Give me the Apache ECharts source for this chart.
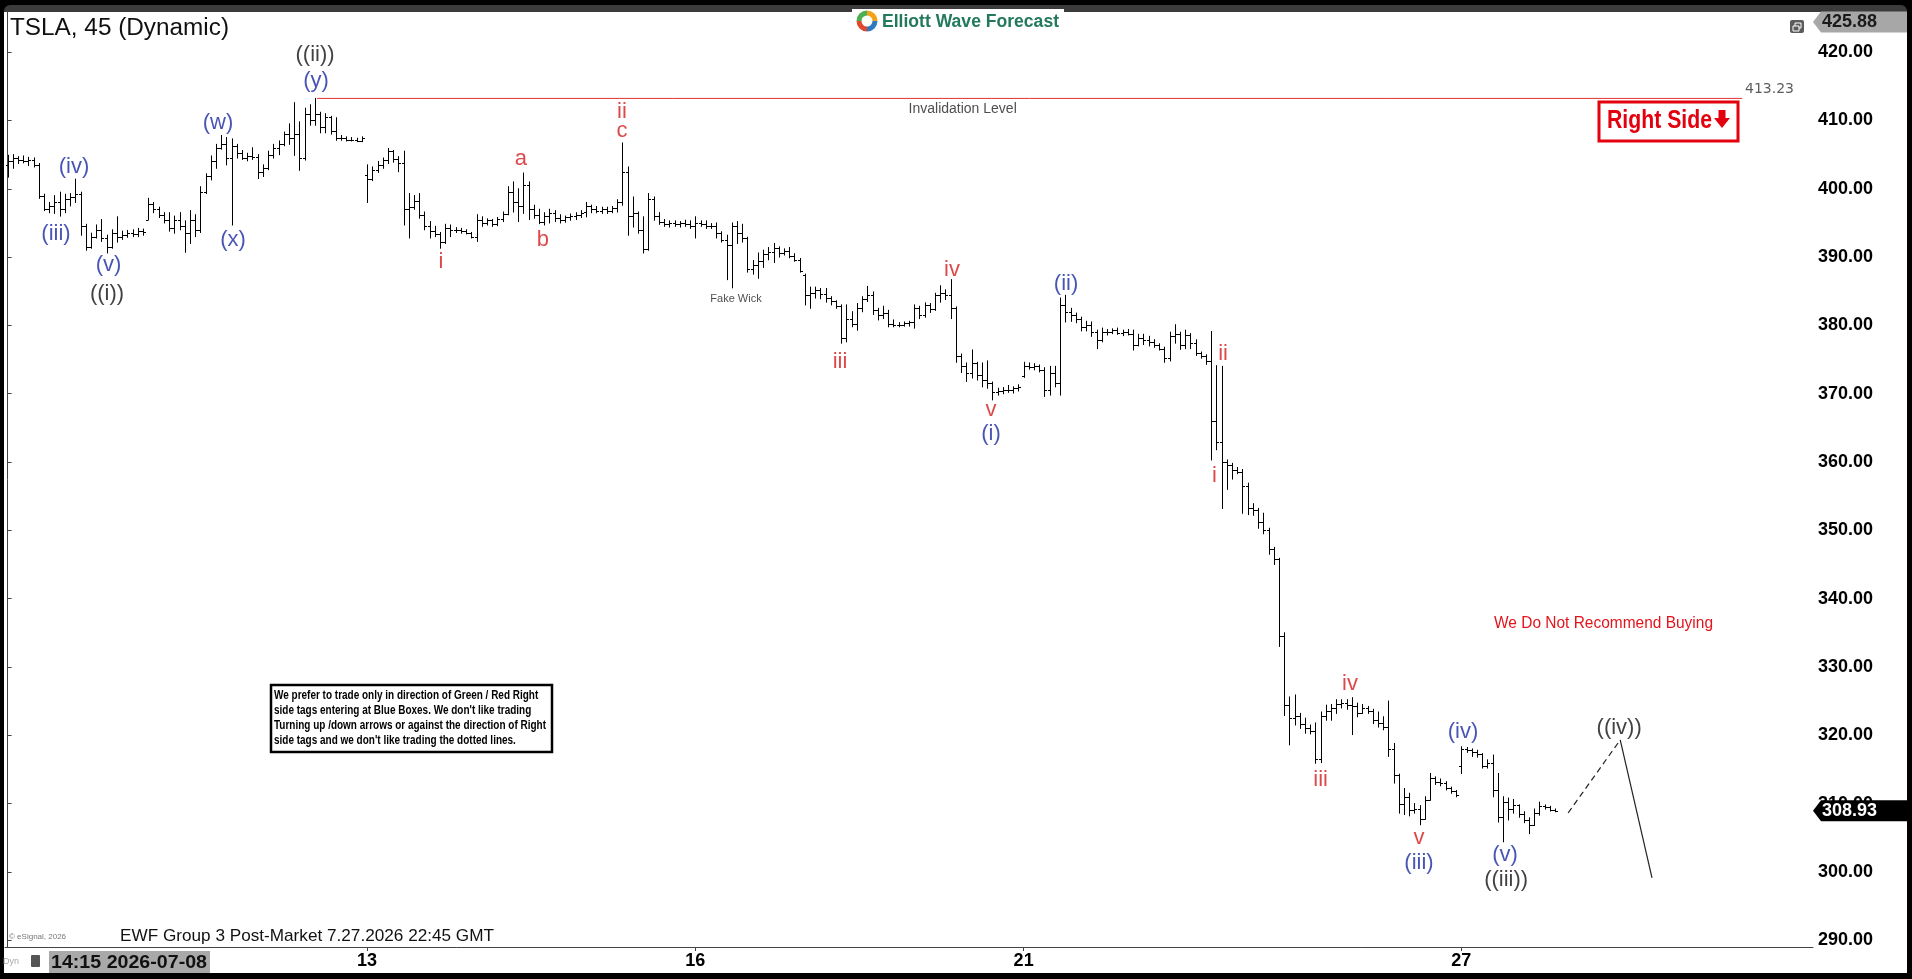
<!DOCTYPE html>
<html>
<head>
<meta charset="utf-8">
<script src="https://cdn.jsdelivr.net/npm/echarts/dist/echarts.min.js"></script>
<style>
html,body{margin:0;padding:0;background:#000;overflow:hidden}
#c{width:1912px;height:979px}
</style>
</head>
<body>
<div id="c"></div>
<script>
const FONT = '"Liberation Sans", Arial, Helvetica, sans-serif';

// ---- 45-minute OHLC bars, one array per session day: [open, high, low, close]
const d0707 = [
[403.5,404.9,401.7,404.0],[404.0,405.0,403.0,404.5],[404.5,404.7,403.7,404.2],[404.2,404.8,403.8,404.0],
[404.0,404.6,403.4,404.2],[404.2,404.5,403.2,403.5]];
const d0708 = [
[403.5,403.7,398.6,399.0],[399.0,399.2,396.8,397.0],[397.0,398.0,396.5,397.5],[397.5,399.0,396.4,398.0],
[398.0,399.5,396.0,397.0],[397.0,399.2,396.5,398.5],[398.5,399.3,397.5,398.8],[398.8,401.4,398.0,399.3],
[399.3,399.5,393.2,394.5],[394.5,394.8,391.0,391.5],[391.5,393.5,391.3,393.0],[393.0,394.7,392.8,394.0],
[394.0,395.5,392.3,392.8],[392.8,393.2,390.6,391.5],[391.5,394.0,391.3,393.5],[393.5,395.9,392.2,393.0],
[393.0,393.8,392.6,393.2],[393.2,393.9,392.9,393.5],[393.5,394.0,393.0,393.4],[393.4,394.2,393.0,393.8],
[393.8,394.1,393.2,393.6]];
const d0709 = [
[395.5,398.6,395.5,397.8],[397.8,398.0,396.5,397.0],[397.0,397.3,395.8,396.2],[396.2,396.5,395.0,395.5],
[395.5,396.5,393.8,394.2],[394.2,396.0,393.5,395.5],[395.5,396.5,394.0,394.5],[394.5,395.3,390.7,393.5],
[393.5,396.8,392.0,395.5],[395.5,396.2,393.0,394.0],[394.0,400.3,393.6,399.5],[399.5,402.2,399.3,401.8],
[401.8,404.8,401.3,404.0],[404.0,406.5,403.0,406.0],[406.0,407.8,405.8,406.5],[406.5,407.5,403.5,404.5],
[404.5,407.3,394.7,406.3],[406.3,406.5,404.5,405.2],[405.2,405.6,404.3,404.5],[404.5,405.2,404.1,404.8],
[404.8,406.0,404.3,404.6]];
const d0710 = [
[404.6,405.0,401.5,402.5],[402.5,403.5,401.8,403.0],[403.0,405.5,402.8,405.0],[405.0,406.5,404.5,406.0],
[406.0,407.0,405.0,406.5],[406.5,408.3,406.3,408.0],[408.0,409.5,406.5,407.5],[407.5,412.6,404.9,408.0],
[408.0,409.8,402.7,404.5],[404.5,411.8,404.2,411.0],[411.0,412.3,409.3,410.0],[410.0,413.23,409.3,411.0],
[411.0,411.2,408.2,409.0],[409.0,411.0,408.2,410.5],[410.5,410.6,408.0,408.5],[408.5,410.4,407.1,407.5],
[407.5,407.8,407.1,407.4],[407.4,407.6,407.0,407.2],[407.2,407.5,407.0,407.1],[407.1,407.4,406.9,407.0],
[407.0,407.6,406.9,407.5]];
const d0713 = [
[402.0,403.5,398.0,401.5],[401.5,403.2,401.2,402.8],[402.8,404.0,402.4,403.5],[403.5,404.5,403.0,404.2],
[404.2,405.9,403.7,405.5],[405.5,405.6,403.9,404.3],[404.3,404.7,402.5,403.8],[403.8,405.5,394.7,397.0],
[397.0,399.3,392.8,397.4],[397.4,399.0,397.0,398.2],[398.2,399.3,395.7,396.2],[396.2,396.6,394.0,394.5],
[394.5,395.2,392.8,393.8],[393.8,394.5,393.0,393.4],[393.4,393.6,391.3,392.2],[392.2,394.8,392.0,394.3],
[394.3,394.7,393.0,394.0],[394.0,394.3,393.6,393.9],[393.9,394.2,393.5,393.8],[393.8,394.0,393.4,393.5],
[393.5,393.6,392.8,393.0]];
const d0714 = [
[393.0,396.2,392.3,395.5],[395.5,395.9,394.5,395.0],[395.0,395.6,394.7,395.4],[395.4,395.5,394.5,394.8],
[394.8,395.8,394.6,395.6],[395.6,396.6,395.2,396.3],[396.3,400.3,396.2,399.5],[399.5,401.0,396.6,398.0],
[398.0,400.0,395.2,397.5],[397.5,402.3,396.4,400.5],[400.5,401.0,395.5,397.0],[397.0,397.6,395.7,396.2],
[396.2,397.0,394.9,395.2],[395.2,396.5,394.7,396.0],[396.0,397.0,395.0,396.4],[396.4,396.8,395.2,395.7],
[395.7,396.2,395.0,395.5],[395.5,396.0,395.1,395.8],[395.8,396.3,395.4,396.0],[396.0,396.5,395.5,396.2],
[396.2,396.8,395.8,396.5]];
const d0715 = [
[396.6,398.0,395.9,397.5],[397.5,397.6,396.5,397.0],[397.0,397.4,396.5,396.8],[396.8,397.3,396.4,397.1],
[397.1,397.3,396.4,396.8],[396.8,397.4,396.5,397.2],[397.2,398.4,396.6,398.0],[398.0,406.7,397.6,402.5],
[402.5,403.2,393.2,396.0],[396.0,398.8,394.4,396.5],[396.5,396.6,393.5,394.0],[394.0,395.9,390.6,391.2],
[391.2,399.3,391.0,398.5],[398.5,398.8,395.4,396.0],[396.0,396.5,394.8,395.2],[395.2,395.5,394.5,394.8],
[394.8,395.3,394.4,395.0],[395.0,395.3,394.5,394.9],[394.9,395.2,394.4,395.0],[395.0,395.4,394.5,394.8],
[394.8,395.3,394.2,394.6]];
const d0716 = [
[394.6,395.9,392.8,395.0],[395.0,395.3,394.5,394.8],[394.8,395.3,394.2,394.5],[394.5,394.9,394.2,394.6],
[394.6,395.0,392.8,393.5],[393.5,393.7,392.2,392.5],[392.5,393.2,386.7,391.8],[391.8,395.0,385.5,394.5],
[394.5,395.2,392.0,393.5],[393.5,394.8,392.2,392.8],[392.8,392.9,387.8,388.3],[388.3,389.5,387.5,388.8],
[388.8,390.6,386.9,389.5],[389.5,391.0,388.5,390.4],[390.4,391.4,389.6,390.8],[390.8,392.0,389.2,391.3],
[391.3,391.5,390.0,390.6],[390.6,391.2,390.3,390.9],[390.9,391.4,389.9,390.2],[390.2,390.5,389.4,389.6],
[389.6,389.8,387.8,388.0]];
const d0717 = [
[387.4,387.5,383.0,384.5],[384.5,385.6,382.5,384.8],[384.8,385.6,384.0,385.2],[385.2,385.4,383.9,384.6],
[384.6,385.4,383.4,384.0],[384.0,384.2,383.0,383.5],[383.5,383.6,382.5,382.9],[382.9,383.0,377.4,378.2],
[378.2,383.0,377.6,381.0],[381.0,382.0,379.8,380.2],[380.2,383.2,379.3,382.5],[382.5,384.2,382.0,383.8],
[383.8,385.7,383.5,384.5],[384.5,384.9,381.6,382.2],[382.2,382.5,380.8,381.5],[381.5,382.8,381.0,381.8],
[381.8,382.2,379.8,380.2],[380.2,380.8,379.8,380.1],[380.1,380.4,379.8,380.0],[380.0,380.5,379.9,380.3],
[380.3,380.6,379.9,380.5]];
const d0720 = [
[380.5,383.0,379.6,382.5],[382.5,382.8,381.0,381.5],[381.5,383.3,381.2,383.0],[383.0,383.2,381.9,382.4],
[382.4,384.7,382.2,384.4],[384.4,385.8,383.4,384.8],[384.8,385.2,383.8,384.5],[384.5,386.7,381.0,382.5],
[382.5,382.7,374.6,375.5],[375.5,375.8,373.1,374.0],[374.0,374.5,371.8,373.0],[373.0,376.4,372.3,374.5],
[374.5,374.6,372.0,372.8],[372.8,374.5,371.0,372.0],[372.0,374.8,370.8,371.5],[371.5,371.7,369.1,370.3],
[370.3,370.8,369.8,370.4],[370.4,370.9,370.0,370.6],[370.6,371.2,370.2,370.5],[370.5,371.0,370.1,370.8],
[370.8,371.3,370.4,371.0]];
const d0721 = [
[372.6,374.6,372.4,374.0],[374.0,374.5,373.6,373.9],[373.9,374.4,373.5,374.0],[374.0,374.2,373.2,373.5],
[373.5,373.8,369.6,370.5],[370.5,374.0,369.8,373.0],[373.0,374.0,371.0,371.5],[371.5,384.0,369.8,383.0],
[383.0,384.4,380.5,382.0],[382.0,382.5,380.6,381.5],[381.5,381.8,380.4,381.0],[381.0,381.2,379.2,379.8],
[379.8,380.6,379.2,380.0],[380.0,380.5,378.4,379.0],[379.0,379.3,376.6,377.8],[377.8,379.6,377.6,379.0],
[379.0,379.4,378.6,379.1],[379.1,379.5,378.8,379.3],[379.3,379.6,378.7,378.9],[378.9,379.3,378.5,379.0],
[379.0,379.4,378.6,378.8]];
const d0722 = [
[378.8,379.3,376.4,377.2],[377.2,378.7,377.0,378.2],[378.2,378.7,377.2,377.8],[377.8,378.4,377.0,377.5],
[377.5,377.9,376.8,377.2],[377.2,377.3,376.4,376.6],[376.6,376.8,374.6,375.2],[375.2,379.0,374.8,378.5],
[378.5,380.1,377.4,378.8],[378.8,379.0,376.5,377.2],[377.2,379.3,376.6,378.6],[378.6,378.8,376.6,377.4],
[377.4,377.9,375.6,376.0],[376.0,376.1,375.2,375.5],[375.5,375.7,374.3,374.8],[374.8,379.1,360.3,366.0],
[366.0,374.1,361.8,363.0],[363.0,374.0,353.2,360.0],[360.0,360.3,356.0,359.5],[359.5,359.8,357.5,358.9],
[358.9,359.2,358.3,358.6]];
const d0723 = [
[358.6,358.9,352.5,356.5],[356.5,356.9,352.3,353.2],[353.2,353.9,352.2,353.0],[353.0,353.2,350.3,351.2],
[351.2,352.5,349.5,350.0],[350.0,350.3,346.5,347.2],[347.2,347.5,345.0,345.8],[345.8,345.9,333.0,334.5],
[334.5,335.0,322.9,324.5],[324.5,325.6,318.6,322.5],[322.5,325.9,321.5,322.8],[322.8,323.2,321.0,321.6],
[321.6,322.5,320.3,321.0],[321.0,321.5,320.2,320.6],[320.6,321.8,315.9,316.5],[316.5,323.4,316.0,322.8],
[322.8,324.4,322.2,323.5],[323.5,324.5,322.2,324.0],[324.0,325.2,323.2,324.6],[324.6,325.2,324.0,324.7],
[324.7,325.2,323.8,324.5]];
const d0724 = [
[324.5,325.5,320.1,324.3],[324.3,324.7,322.7,323.2],[323.2,324.5,323.2,324.0],[324.0,324.2,323.2,323.5],
[323.5,323.8,321.7,322.3],[322.3,323.4,321.2,321.8],[321.8,322.7,320.8,321.2],[321.2,325.0,316.9,318.0],
[318.0,318.8,313.0,314.2],[314.2,314.3,308.6,310.0],[310.0,312.2,308.4,311.0],[311.0,311.5,308.2,309.0],
[309.0,310.0,308.6,309.2],[309.2,309.7,306.9,307.8],[307.8,311.0,307.7,310.5],[310.5,314.4,310.5,313.8],
[313.8,313.9,312.8,313.2],[313.2,313.6,312.6,313.0],[313.0,313.2,312.0,312.3],[312.3,312.4,311.5,311.8],
[311.8,311.9,311.0,311.2]];
const d0727 = [
[315.5,318.3,314.4,318.0],[318.0,318.2,317.5,317.8],[317.8,318.0,316.9,317.5],[317.5,317.8,316.8,317.2],
[317.2,317.3,315.2,315.5],[315.5,316.4,315.2,316.0],[316.0,317.1,311.0,312.0],[312.0,314.4,307.3,308.0],
[308.0,311.0,304.4,310.3],[310.3,310.8,307.6,309.2],[309.2,310.6,308.6,309.8],[309.8,309.8,308.0,308.4],
[308.4,308.8,307.2,307.6],[307.6,307.9,305.6,306.8],[306.8,309.2,306.8,308.6],[308.6,310.2,308.3,309.6],
[309.6,309.8,309.2,309.5],[309.5,309.6,308.9,309.1],[309.1,309.2,308.8,308.93]];

const dayBars  = [d0707,d0708,d0709,d0710,d0713,d0714,d0715,d0716,d0717,d0720,d0721,d0722,d0723,d0724,d0727];
const dayDates = ['2026-07-07','2026-07-08','2026-07-09','2026-07-10','2026-07-13','2026-07-14','2026-07-15',
                  '2026-07-16','2026-07-17','2026-07-20','2026-07-21','2026-07-22','2026-07-23','2026-07-24','2026-07-27'];
const futureDates = ['2026-07-28','2026-07-29','2026-07-30'];
const firstSlot = 15, slotsPerDay = 21, totalSlots = 347;

const xTickDays = ['2026-07-13','2026-07-16','2026-07-21','2026-07-27'];
const yTicks = [290,300,310,320,330,340,350,360,370,380,390,400,410,420];
const yMin = 289.0, yMax = 425.88;
const lastPrice = 308.93;
const invalidation = 413.23;
const invalidationSpan = [59.4, 332.9];
const projection = [[299.5,308.62],[309.5,319.31],[315.6,299.11]];

// wave labels: [text, bar position, price]
const blueLabels = [['(iii)',9.29,393.39],['(iv)',12.74,403.19],['(v)',19.37,388.85],['(w)',40.38,409.64],
  ['(x)',43.26,392.51],['(y)',59.19,415.86],['(i)',188.75,364.11],['(ii)',203.14,386.06],
  ['(iii)',270.88,301.3],['(iv)',279.33,320.5],['(v)',287.4,302.5]];
const redLabels = [['i',83.18,389.27],['a',98.53,404.44],['b',102.75,392.51],['ii',117.92,411.25],['c',117.92,408.54],
  ['iii',159.76,374.65],['iv',181.26,388.19],['v',188.75,367.62],['i',231.64,358.03],['ii',233.27,375.81],
  ['iii',252.0,313.45],['iv',257.64,327.51],['v',270.88,304.96]];
const blackLabels = [['((i))',19.08,384.6],['((ii))',59.0,419.59],['((iii))',287.6,298.83],['((iv))',309.3,321.0]];
const notes = [['Fake Wick',139.8,383.94,11],['Invalidation Level',183.3,411.69,14]];

// ---- build categories and OHLC table
function slotTime(k){ const m = 240 + 45*k; return String(Math.floor(m/60)).padStart(2,'0')+':'+String(m%60).padStart(2,'0'); }
const categories = [];
dayDates.concat(futureDates).forEach((d, di) => {
  for (let k = (di === 0 ? firstSlot : 0); k < slotsPerDay; k++) categories.push(d + ' ' + slotTime(k));
});
categories.length = totalSlots;
const tickIdx = new Set(categories.map((c,i)=>[c,i]).filter(([c])=>xTickDays.includes(c.slice(0,10)) && c.slice(11)==='04:00').map(([,i])=>i));
const ohlc = [];
dayBars.forEach(bars => bars.forEach(b => ohlc.push([ohlc.length, b[0], b[1], b[2], b[3]])));

const mctx = document.createElement('canvas').getContext('2d');
function textW(text, font){ mctx.font = font; return mctx.measureText(text).width; }
function fit(text, font, w){ const m = textW(text, font); return m > 0 ? w/m : 1; }

function labelSeries(list, color, size){
  return {type:'scatter', xAxisIndex:1, yAxisIndex:0, symbol:'circle', symbolSize:1, silent:true, z:20,
    itemStyle:{color:'rgba(0,0,0,0)'},
    label:{show:true, position:'inside', formatter:'{b}', color:color, fontSize:size, fontFamily:FONT},
    data:list.map(l=>({name:l[0], value:[l[1], l[2]], label: l[3] ? {fontSize:l[3], color:'#222'} : undefined}))};
}

const chart = echarts.init(document.getElementById('c'), null, {renderer:'canvas', width:1912, height:979});

const titleFont = '23px ' + FONT;
const logoFont = 'bold 18px ' + FONT;
const rsFont = 'bold 25px ' + FONT;
const recFont = '16px ' + FONT;
const discFont = 'bold 12.5px ' + FONT;
const ewfFont = '17px ' + FONT;
const timeFont = 'bold 19px ' + FONT;
const discLines = ['We prefer to trade only in direction of Green / Red Right',
  "side tags entering at Blue Boxes. We don't like trading",
  'Turning up /down arrows or against the direction of Right',
  "side tags and we don't like trading the dotted lines."];
const discScale = 272 / Math.max.apply(null, discLines.map(l => textW(l, discFont)));

const graphics = [
  {type:'rect', z:-20, shape:{x:4,y:5,width:1903,height:12,r:[6,6,0,0]}, style:{fill:'#3b3b3b'}},
  {type:'rect', z:-19, shape:{x:4,y:12,width:1903,height:961}, style:{fill:'#ffffff'}},
  // title
  {type:'text', z:50, x:10, y:29, scaleX:fit('TSLA, 45 (Dynamic)', titleFont, 219),
    style:{text:'TSLA, 45 (Dynamic)', font:titleFont, fill:'#111', align:'left', verticalAlign:'middle'}},
  // logo
  {type:'rect', z:40, shape:{x:852,y:9,width:212,height:25}, style:{fill:'#ffffff'}},
  {type:'arc', z:50, shape:{cx:867,cy:21,r:8,startAngle:Math.PI*1.0,endAngle:Math.PI*1.5}, style:{stroke:'#4caf50',lineWidth:5,fill:null}},
  {type:'arc', z:50, shape:{cx:867,cy:21,r:8,startAngle:Math.PI*1.5,endAngle:Math.PI*2.0}, style:{stroke:'#f5a21b',lineWidth:5,fill:null}},
  {type:'arc', z:50, shape:{cx:867,cy:21,r:8,startAngle:0,endAngle:Math.PI*0.5}, style:{stroke:'#2b7bc0',lineWidth:5,fill:null}},
  {type:'arc', z:50, shape:{cx:867,cy:21,r:8,startAngle:Math.PI*0.5,endAngle:Math.PI*1.0}, style:{stroke:'#e2482d',lineWidth:5,fill:null}},
  {type:'text', z:50, x:882, y:22, scaleX:fit('Elliott Wave Forecast', logoFont, 177),
    style:{text:'Elliott Wave Forecast', font:logoFont, fill:'#23795c', align:'left', verticalAlign:'middle'}},
  // small window icon top right
  {type:'rect', z:50, shape:{x:1790,y:20,width:14,height:13,r:2}, style:{fill:'#5c5c5c'}},
  {type:'rect', z:51, shape:{x:1795,y:23,width:6,height:5}, style:{fill:null, stroke:'#fff', lineWidth:1}},
  {type:'rect', z:51, shape:{x:1793,y:26,width:6,height:5}, style:{fill:'#5c5c5c', stroke:'#fff', lineWidth:1}},
  // right side tag
  {type:'rect', z:50, shape:{x:1599,y:102,width:139,height:39}, style:{fill:'#fff', stroke:'#e3000f', lineWidth:3}},
  {type:'text', z:51, x:1607, y:121, scaleX:fit('Right Side', rsFont, 105),
    style:{text:'Right Side', font:rsFont, fill:'#e3000f', align:'left', verticalAlign:'middle'}},
  {type:'rect', z:51, shape:{x:1718.5,y:110,width:7,height:9}, style:{fill:'#e3000f'}},
  {type:'polygon', z:51, shape:{points:[[1714,118],[1730,118],[1722,128]]}, style:{fill:'#e3000f'}},
  // recommendation
  {type:'text', z:50, x:1494, y:624, scaleX:fit('We Do Not Recommend Buying', recFont, 219),
    style:{text:'We Do Not Recommend Buying', font:recFont, fill:'#e3141c', align:'left', verticalAlign:'middle'}},
  // disclaimer box
  {type:'rect', z:50, shape:{x:271,y:685,width:281,height:67}, style:{fill:'#fff', stroke:'#000', lineWidth:2.5}},
  {type:'text', z:51, x:274, y:688.6, scaleX:discScale,
    style:{text:discLines.join('\n'), font:discFont, lineHeight:14.8, fill:'#000', align:'left', verticalAlign:'top'}},
  // footer texts
  {type:'text', z:50, x:120, y:936, scaleX:fit('EWF Group 3 Post-Market 7.27.2026 22:45 GMT', ewfFont, 374),
    style:{text:'EWF Group 3 Post-Market 7.27.2026 22:45 GMT', font:ewfFont, fill:'#111', align:'left', verticalAlign:'middle'}},
  {type:'text', z:50, x:9, y:937, style:{text:'\u00a9 eSignal, 2026', font:'8px ' + FONT, fill:'#777', align:'left', verticalAlign:'middle'}},
  {type:'text', z:50, x:3, y:962, style:{text:'Dyn', font:'9px ' + FONT, fill:'#aaa', align:'left', verticalAlign:'middle'}},
  {type:'rect', z:50, shape:{x:31,y:955,width:9,height:12,r:1}, style:{fill:'#555'}},
  {type:'rect', z:50, shape:{x:49,y:951,width:161,height:22}, style:{fill:'#a9a9a9'}},
  {type:'text', z:51, x:51, y:962.5, scaleX:fit('14:15 2026-07-08', timeFont, 156),
    style:{text:'14:15 2026-07-08', font:timeFont, fill:'#111', align:'left', verticalAlign:'middle'}}
];

const option = {
  animation:false,
  backgroundColor:'#000',
  grid:{left:5, right:99, top:12, bottom:32, containLabel:false, outerBoundsMode:'none'},
  xAxis:[
    {type:'category', data:categories, boundaryGap:true, gridIndex:0,
     axisLine:{show:true, lineStyle:{color:'#444', width:1}},
     axisTick:{show:true, interval:(i)=>tickIdx.has(i), length:4, alignWithLabel:true, lineStyle:{color:'#444'}},
     axisLabel:{show:true, interval:(i)=>tickIdx.has(i), formatter:(v)=>String(parseInt(v.slice(8,10),10)),
       fontSize:18, fontWeight:'bold', color:'#000', fontFamily:FONT, margin:5},
     splitLine:{show:false}},
    {type:'value', gridIndex:0, min:-0.5, max:totalSlots-0.5, show:false}
  ],
  yAxis:{type:'value', position:'right', min:yMin, max:yMax,
    axisLine:{show:true, lineStyle:{color:'#444', width:1}},
    axisTick:{show:true, length:4, customValues:yTicks, lineStyle:{color:'#444'}},
    axisLabel:{show:true, customValues:yTicks, formatter:(v)=>Number(v).toFixed(2), fontSize:18, fontWeight:'bold',
      color:'#000', fontFamily:FONT, margin:5},
    splitLine:{show:false}},
  series:[
    {type:'custom', name:'TSLA', xAxisIndex:0, yAxisIndex:0, z:5, data:ohlc,
     encode:{x:0, y:[1,2,3,4]},
     renderItem:(params, api)=>{
       const i = api.value(0);
       const pO = api.coord([i, api.value(1)]), pH = api.coord([i, api.value(2)]);
       const pL = api.coord([i, api.value(3)]), pC = api.coord([i, api.value(4)]);
       const x = Math.round(pH[0]) + 0.5;
       const st = {stroke:'#000', lineWidth:1};
       const yo = Math.round(pO[1]) + 0.5, yc = Math.round(pC[1]) + 0.5;
       return {type:'group', children:[
         {type:'line', shape:{x1:x, y1:pH[1]-0.5, x2:x, y2:pL[1]+0.5}, style:st},
         {type:'line', shape:{x1:x-2.5, y1:yo, x2:x, y2:yo}, style:st},
         {type:'line', shape:{x1:x, y1:yc, x2:x+2.5, y2:yc}, style:st}
       ]};
     }},
    {type:'line', name:'Invalidation', xAxisIndex:1, yAxisIndex:0, symbol:'none', silent:true, z:4,
     data:[[invalidationSpan[0], invalidation],[invalidationSpan[1], invalidation]],
     lineStyle:{color:'#e23434', width:1}},
    {type:'line', name:'Projection dashed', xAxisIndex:1, yAxisIndex:0, symbol:'none', silent:true, z:4,
     data:[projection[0], projection[1]], lineStyle:{color:'#222', width:1.2, type:[6,4]}},
    {type:'line', name:'Projection', xAxisIndex:1, yAxisIndex:0, symbol:'none', silent:true, z:4,
     data:[projection[1], projection[2]], lineStyle:{color:'#222', width:1.2}},
    labelSeries(blueLabels, '#1c2aa3', 22),
    labelSeries(redLabels, '#d41c1c', 22),
    labelSeries(blackLabels, '#111111', 22),
    labelSeries(notes, '#222222', 12),
    {type:'scatter', xAxisIndex:1, yAxisIndex:0, symbolSize:1, silent:true, z:20, itemStyle:{color:'rgba(0,0,0,0)'},
     label:{show:true, position:'inside', align:'left', formatter:'{b}', color:'#333',
       fontSize:14, fontFamily:'"DejaVu Sans", sans-serif'},
     data:[{name:invalidation.toFixed(2), value:[333.45, invalidation + 1.31]}]},
    {type:'custom', name:'Tags', xAxisIndex:1, yAxisIndex:0, z:30, clip:false,
     data:[[0, yMax],[0, lastPrice]],
     renderItem:(params, api)=>{
       const v = api.value(1);
       const dark = params.dataIndex === 1;
       let y = api.coord([0, v])[1];
       if (!dark) y = y + 10;
       const hh = 10.5, x0 = 1813, x1 = 1907;
       return {type:'group', children:[
         {type:'polygon', shape:{points:[[x0,y],[x0+8,y-hh],[x1,y-hh],[x1,y+hh],[x0+8,y+hh]]},
          style:{fill: dark ? '#000' : '#a7a7a7'}},
         {type:'text', style:{text: dark ? lastPrice.toFixed(2) : yMax.toFixed(2), x:x0+9, y:y+0.5,
          font:'bold 18px ' + FONT, fill: dark ? '#fff' : '#1a1a1a', align:'left', verticalAlign:'middle'}}
       ]};
     }}
  ],
  graphic:{elements:graphics}
};
chart.setOption(option);
</script>
</body>
</html>
